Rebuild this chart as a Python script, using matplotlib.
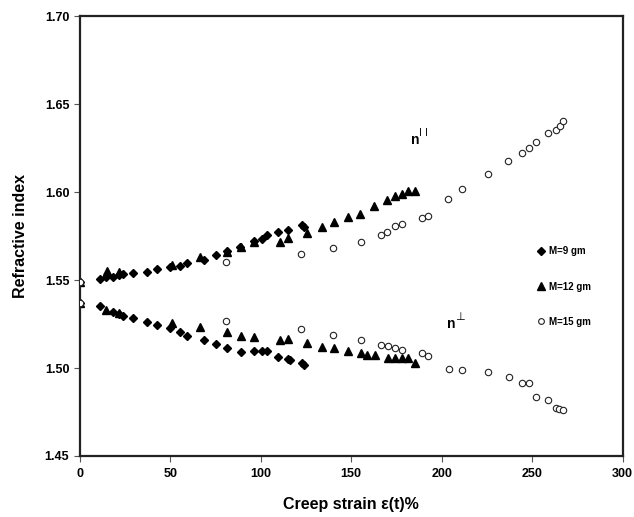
"""Refractive index (parallel and perpendicular) vs creep strain for three loads."""

import matplotlib
matplotlib.use("Agg")
import matplotlib.pyplot as plt

plt.rcParams["font.family"] = ["Liberation Sans", "DejaVu Sans"]
plt.rcParams["font.weight"] = "bold"

# M = 9 gm
strain_9_par = [0, 11.2, 14.5, 18.2, 21.9, 24.1, 29.6, 37.0, 42.9, 49.9, 55.4, 59.1, 68.7,
                75.3, 81.2, 88.6, 96.3, 100.6, 103.6, 109.7, 114.9, 122.7, 124.1]
n_9_par = [1.549, 1.5506, 1.5519, 1.5519, 1.5528, 1.5532, 1.5538, 1.5547, 1.5563, 1.5572,
           1.5581, 1.5598, 1.5614, 1.5640, 1.5666, 1.5689, 1.5724, 1.5735, 1.5754, 1.5774,
           1.5784, 1.5813, 1.5803]
strain_9_perp = [0, 11.2, 18.2, 21.9, 24.1, 29.6, 37.0, 42.9, 49.9, 55.4, 59.1, 68.7, 75.3,
                 81.2, 89.0, 96.3, 100.6, 103.6, 109.7, 114.9, 116.2, 122.7, 123.9]
n_9_perp = [1.537, 1.5354, 1.5316, 1.5305, 1.5295, 1.5286, 1.5263, 1.5244, 1.5226, 1.5206,
            1.5182, 1.5159, 1.5135, 1.5112, 1.5093, 1.5097, 1.5098, 1.5098, 1.5064, 1.5049,
            1.5045, 1.5030, 1.5017]

# M = 12 gm
strain_12_par = [0, 14.9, 21.9, 50.8, 66.6, 81.2, 89.0, 96.3, 110.7, 114.9, 125.7, 133.7,
                 140.5, 148.4, 154.9, 162.6, 169.9, 174.2, 177.9, 181.5, 185.2]
n_12_par = [1.549, 1.5551, 1.5547, 1.5585, 1.5632, 1.5659, 1.5685, 1.5716, 1.5718, 1.5737,
            1.5769, 1.5799, 1.5831, 1.5860, 1.5875, 1.5920, 1.5955, 1.5979, 1.5989, 1.6007,
            1.6007]
strain_12_perp = [0, 14.5, 21.9, 50.8, 66.5, 81.2, 89.0, 96.3, 110.7, 114.9, 125.7, 133.7,
                  140.5, 148.4, 155.2, 158.9, 163.1, 170.2, 174.2, 177.9, 181.5, 185.2]
n_12_perp = [1.537, 1.5330, 1.5314, 1.5257, 1.5231, 1.5206, 1.5184, 1.5174, 1.5159, 1.5165,
             1.5140, 1.5118, 1.5112, 1.5098, 1.5084, 1.5074, 1.5074, 1.5059, 1.5059, 1.5055,
             1.5055, 1.5030]

# M = 15 gm
strain_15_par = [0, 80.8, 122.1, 140.1, 155.2, 166.3, 169.9, 174.2, 177.9, 189.0, 192.6,
                 203.6, 211.0, 225.7, 236.8, 244.2, 248.2, 251.9, 258.9, 263.0, 265.4, 266.9]
n_15_par = [1.549, 1.5600, 1.5650, 1.5683, 1.5717, 1.5755, 1.5774, 1.5808, 1.5816, 1.5854,
            1.5865, 1.5958, 1.6017, 1.6100, 1.6176, 1.6219, 1.6251, 1.6285, 1.6337, 1.6355,
            1.6375, 1.6405]
strain_15_perp = [0, 80.8, 122.1, 140.1, 155.2, 166.5, 170.2, 174.2, 177.9, 189.0, 192.6,
                  204.2, 211.0, 225.7, 237.2, 244.2, 248.4, 252.1, 258.9, 263.0, 265.0, 266.9]
n_15_perp = [1.537, 1.5268, 1.5219, 1.5190, 1.5159, 1.5130, 1.5125, 1.5111, 1.5102, 1.5083,
             1.5070, 1.4994, 1.4988, 1.4975, 1.4950, 1.4912, 1.4912, 1.4833, 1.4821, 1.4774,
             1.4767, 1.4761]

X_TICKS = [0, 50, 100, 150, 200, 250, 300]
Y_TICKS = [1.45, 1.50, 1.55, 1.60, 1.65, 1.70]


def main():
    fig = plt.figure(figsize=(6.34, 5.17), dpi=100)
    ax = fig.add_axes([0.1257, 0.118, 0.8565, 0.851])

    ax.plot(strain_15_par, n_15_par, "o", ms=4.6, mfc="white", mec="#222222", mew=0.8,
            label="M=15 gm", zorder=3)
    ax.plot(strain_15_perp, n_15_perp, "o", ms=4.6, mfc="white", mec="#222222", mew=0.8,
            zorder=3)
    ax.plot(strain_12_par, n_12_par, "^", ms=6, color="black", label="M=12 gm", zorder=2)
    ax.plot(strain_12_perp, n_12_perp, "^", ms=6, color="black", zorder=2)
    ax.plot(strain_9_par, n_9_par, "D", ms=4.2, color="black", label="M=9 gm", zorder=2)
    ax.plot(strain_9_perp, n_9_perp, "D", ms=4.2, color="black", zorder=2)

    ax.set_xlim(0, 300)
    ax.set_ylim(1.45, 1.70)
    ax.set_xticks(X_TICKS)
    ax.set_yticks(Y_TICKS)
    ax.set_yticklabels([f"{v:.2f}" for v in Y_TICKS])
    ax.tick_params(direction="out", length=4, width=0.8, labelsize=9, color="#555555",
                   top=False, right=False)
    ax.tick_params(axis="x", pad=5)
    for sp in ax.spines.values():
        sp.set_linewidth(1.6)
        sp.set_color("#222222")

    ax.set_xlabel("Creep strain \u03b5(t)%", fontsize=11.5, fontweight="bold", labelpad=12)
    ax.set_ylabel("Refractive index", fontsize=11.5, fontweight="bold", labelpad=12)

    # n-parallel / n-perpendicular labels next to the two branches
    ax.text(183, 1.6275, "n", fontsize=10, fontweight="bold")
    ax.text(187.5, 1.632, "I I", fontsize=7, family="DejaVu Sans Condensed",
            fontweight="normal")
    ax.text(203, 1.523, "n", fontsize=10, fontweight="bold")
    ax.text(207.3, 1.5275, "\u22a5", fontsize=8, family="DejaVu Sans", fontweight="normal")

    handles, labels = ax.get_legend_handles_labels()
    order = [2, 1, 0]
    ax.legend([handles[i] for i in order], [labels[i] for i in order],
              loc="center left", bbox_to_anchor=(0.825, 0.385), frameon=False,
              fontsize=7, labelspacing=2.6, handletextpad=0.3, handlelength=1.0,
              markerscale=0.9)

    fig.savefig("out.png", dpi=100)


if __name__ == "__main__":
    main()
